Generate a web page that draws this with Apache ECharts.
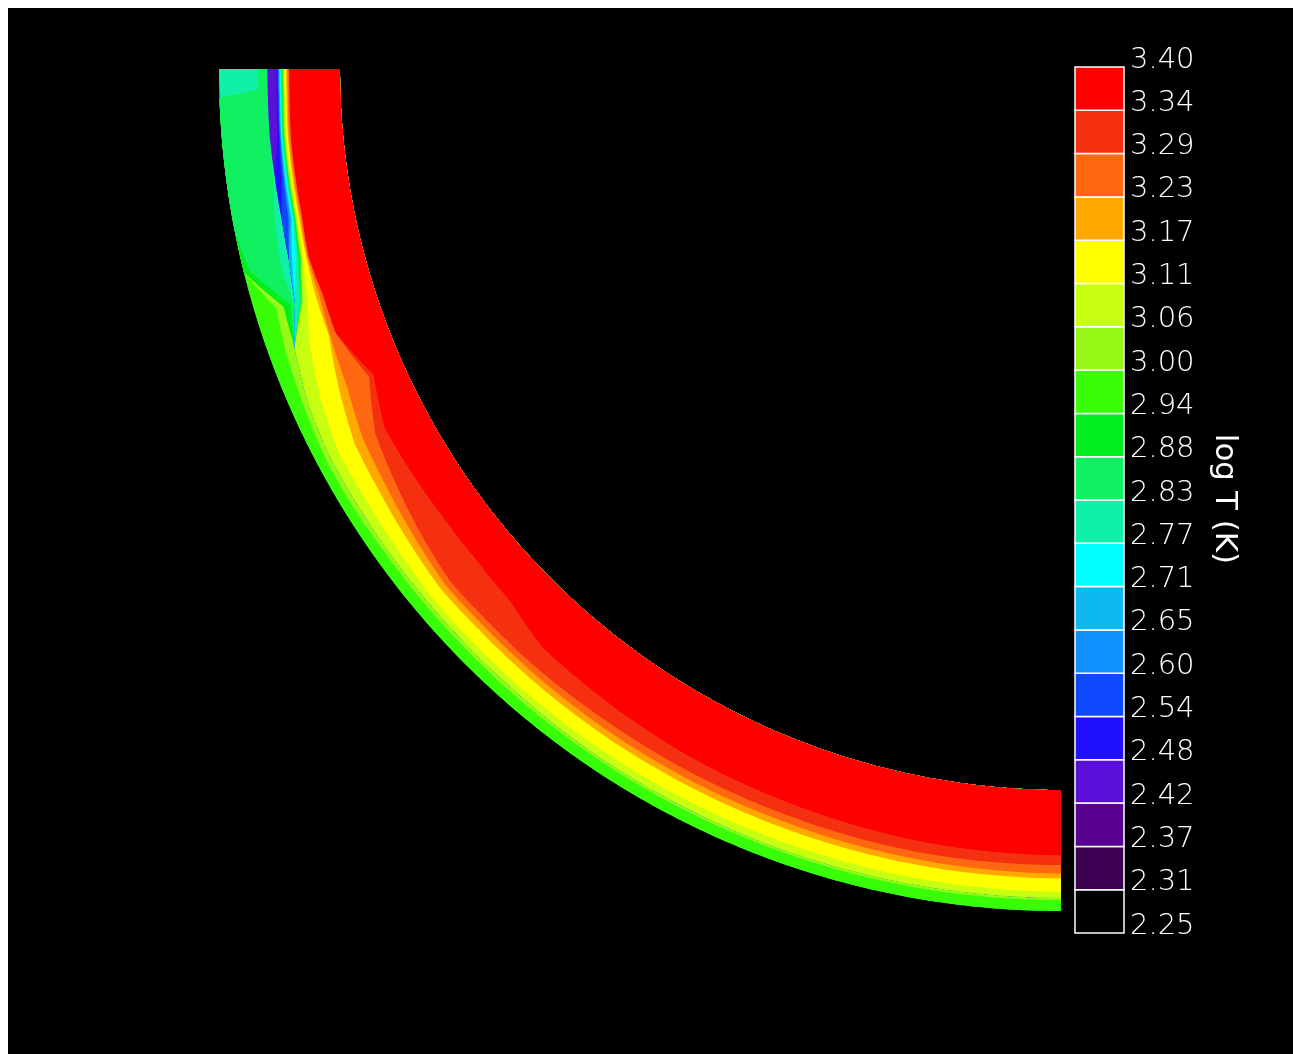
<!DOCTYPE html>
<html><head><meta charset="utf-8">
<script src="https://cdn.jsdelivr.net/npm/echarts@6/dist/echarts.min.js"></script>
<style>
html,body{margin:0;padding:0;background:#fff;}
#chart{position:absolute;left:8px;top:8px;width:1285px;height:1046px;background:#000;}
</style></head><body><div id="chart"></div>
<script>
// ---- colour scale (log T levels) ----
const tickLabels = ['2.25','2.31','2.37','2.42','2.48','2.54','2.60','2.65','2.71','2.77','2.83','2.88','2.94','3.00','3.06','3.11','3.17','3.23','3.29','3.34','3.40'];
const tickValues = [2.25,2.31,2.37,2.42,2.48,2.54,2.60,2.65,2.71,2.77,2.83,2.88,2.94,3.00,3.06,3.11,3.17,3.23,3.29,3.34,3.40];
const binColors = ['#000000','#3c0050','#580090','#5a10d8','#2010ff','#1048ff','#1090ff','#10b8f0','#00ffff','#10f0a8',
                   '#10f060','#00ee20','#38ff08','#98f818','#c8ff10','#ffff00','#ffa800','#ff6810','#f53010','#ff0000'];

// ---- field: angle (deg from the top end) and layers (inner -> outer) ----
const angleDeg = [0,1.5,2,5,8,11,14,17,20,24,28,32,36,40,44,48,55,62,70,80,90];
const layerLogT = [3.37,3.31,3.26,3.20,3.14,3.08,3.03,2.97,2.91,2.86,2.80,2.74,2.68,2.62,2.57,2.51,2.45,2.80,2.86,2.91,3.03,2.97,2.80];
const n = null;
// outer edge of each layer, as a fraction of the shell thickness (0 = inner, 1 = outer); null = layer absent
const edge01 = [.42,.42,.42,.43,.43,.43,.45,.42,.42,.26,.37,.36,.35,.35,.37,.46,.48,.50,.51,.53,.54];
const edge02 = [n,n,n,n,n,n,n,n,n,.30,.46,.52,.58,.63,.62,.62,.61,.61,.61,.62,.62];
const edge03 = [.435,.435,.435,.445,.445,.445,.46,.45,.47,.50,.57,.60,.64,.68,.67,.67,.67,.67,.67,.68,.69];
const edge04 = [.445,.445,.445,.455,.455,.457,.47,.48,.48,.57,.65,.67,.70,.73,.72,.72,.72,.72,.72,.725,.73];
const edge05 = [.46,.46,.46,.47,.47,.475,.50,.55,.65,.74,.80,.80,.81,.83,.83,.83,.83,.83,.83,.835,.84];
const edge06 = [.465,.465,.465,.477,.478,.48,.51,.59,.78,.85,.88,.88,.88,.88,.88,.88,.89,.89,.89,.89,.89];
const edge07 = [.47,.47,.47,.482,.483,.485,.515,.60,n,n,n,n,n,n,n,n,n,n,n,n,n];
const edge08 = [.475,.475,.475,.487,.488,.49,.52,.605,n,n,n,n,n,n,n,n,n,n,n,n,n];
const edge09 = [.48,.48,.48,.492,.493,.495,.53,.61,n,n,n,n,n,n,n,n,n,n,n,n,n];
const edge10 = [.485,.485,.485,.497,.498,.50,.54,.615,n,n,n,n,n,n,n,n,n,n,n,n,n];
const edge11 = [.49,.49,.49,.502,.505,.505,.555,.66,n,n,n,n,n,n,n,n,n,n,n,n,n];
const edge12 = [.50,.50,.50,.51,.515,.52,.59,n,n,n,n,n,n,n,n,n,n,n,n,n,n];
const edge13 = [.505,.505,.505,.515,.522,.53,.615,n,n,n,n,n,n,n,n,n,n,n,n,n,n];
const edge14 = [.51,.51,.51,.52,.53,.545,n,n,n,n,n,n,n,n,n,n,n,n,n,n,n];
const edge15 = [.515,.515,.515,.528,.545,.60,n,n,n,n,n,n,n,n,n,n,n,n,n,n,n];
const edge16 = [.525,.525,.525,.54,.60,n,n,n,n,n,n,n,n,n,n,n,n,n,n,n,n];
const edge17 = [.60,.60,.60,.605,n,n,n,n,n,n,n,n,n,n,n,n,n,n,n,n,n];
const edge18 = [n,n,n,.61,.615,.66,.69,.67,n,n,n,n,n,n,n,n,n,n,n,n,n];
const edge19 = [.68,.68,1,1,1,1,.95,.70,n,n,n,n,n,n,n,n,n,n,n,n,n];
const edge20 = [n,n,n,n,n,n,1,.76,n,n,n,n,n,n,n,n,n,n,n,n,n];
const edge21 = [n,n,n,n,n,n,n,.82,.86,.89,.92,.92,.91,.91,.91,.91,.91,.91,.91,.91,.91];
const edge22 = [n,n,n,n,n,n,n,1,1,1,1,1,1,1,1,1,1,1,1,1,1];
const edge23 = [1,1,n,n,n,n,n,n,n,n,n,n,n,n,n,n,n,n,n,n,n];

const layerEdges = [edge01,edge02,edge03,edge04,edge05,edge06,edge07,edge08,edge09,edge10,edge11,edge12,
                    edge13,edge14,edge15,edge16,edge17,edge18,edge19,edge20,edge21,edge22,edge23];

// resolve absent layers (zero thickness -> same edge as previous layer)
const resolved = layerEdges.map(a => a.slice());
for (let i = 0; i < resolved.length; i++) {
  for (let j = 0; j < angleDeg.length; j++) {
    if (resolved[i][j] === null) resolved[i][j] = i === 0 ? 0 : resolved[i - 1][j];
  }
}

// draw outermost first; each layer fills from inner wall to its outer edge
const fieldData = [];
for (let i = layerLogT.length - 1; i >= 0; i--) fieldData.push([i, layerLogT[i]]);
const barData = [];
for (let k = 0; k < binColors.length; k++) barData.push([k, (tickValues[k] + tickValues[k + 1]) / 2]);

const pieces = binColors.map((c, k) => k === binColors.length - 1
  ? { gte: tickValues[k], lte: tickValues[k + 1], color: c }
  : { gte: tickValues[k], lt: tickValues[k + 1], color: c });

function renderLayer(params, api) {
  const li = api.value(0);
  const e = resolved[li];
  const pts = [];
  for (let j = 0; j < angleDeg.length - 1; j++) {
    const a0 = angleDeg[j], a1 = angleDeg[j + 1];
    const steps = Math.max(1, Math.ceil((a1 - a0) / 0.5));
    for (let s = 0; s < steps; s++) {
      const t = s / steps;
      pts.push(api.coord([e[j] + t * (e[j + 1] - e[j]), a0 + t * (a1 - a0)]));
    }
  }
  const last = angleDeg.length - 1;
  pts.push(api.coord([e[last], angleDeg[last]]));
  for (let a = angleDeg[last]; a >= angleDeg[0]; a -= 0.5) pts.push(api.coord([0, a]));
  pts.push(api.coord([0, angleDeg[0]]));
  return { type: 'polygon', shape: { points: pts }, style: { fill: api.visual('color') } };
}

function renderBin(params, api) {
  const k = api.value(0);
  const p0 = api.coord([0, k]);
  const p1 = api.coord([1, k + 1]);
  return { type: 'rect', shape: { x: p0[0], y: p1[1], width: p1[0] - p0[0], height: p0[1] - p1[1] },
           style: { fill: api.visual('color'), stroke: '#ffffff', lineWidth: 1.5 } };
}

const chart = echarts.init(document.getElementById('chart'));
chart.setOption({
  backgroundColor: '#000000',
  animation: false,
  polar: { center: [1053, 61], radius: [721, 842] },
  angleAxis: { type: 'value', min: 0, max: 360, startAngle: 180, clockwise: false, show: false },
  radiusAxis: { type: 'value', min: 0, max: 1, show: false },
  grid: { left: 1067, top: 59, width: 49, height: 866 },
  xAxis: { type: 'value', min: 0, max: 1, show: false },
  yAxis: {
    type: 'value', min: 0, max: 20, interval: 1, position: 'right',
    axisLine: { show: false }, axisTick: { show: false }, splitLine: { show: false },
    axisLabel: {
      margin: 6, color: '#ffffff', fontSize: 29, fontFamily: 'DejaVu Sans', fontWeight: 200,
      verticalAlign: 'bottom', lineHeight: 14,
      formatter: v => tickLabels[Math.round(v)]
    }
  },
  visualMap: { type: 'piecewise', show: false, dimension: 1, seriesIndex: [0, 1], pieces: pieces },
  graphic: [{
    type: 'text', x: 1216, y: 491, rotation: -Math.PI / 2,
    style: { text: 'log T (K)', fill: '#ffffff', font: '31px "DejaVu Sans"', align: 'center', verticalAlign: 'middle' }
  }],
  series: [
    { type: 'custom', coordinateSystem: 'polar', renderItem: renderLayer, data: fieldData, silent: true },
    { type: 'custom', coordinateSystem: 'cartesian2d', renderItem: renderBin, data: barData, silent: true }
  ]
});
</script></body></html>
